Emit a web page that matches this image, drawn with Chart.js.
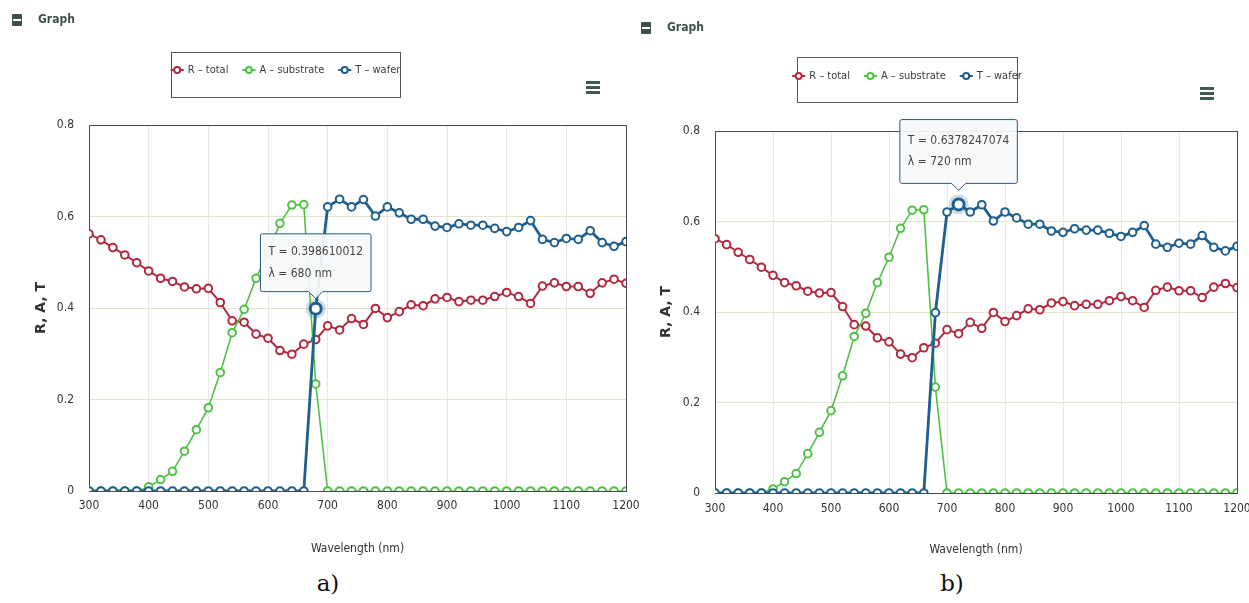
<!DOCTYPE html>
<html><head><meta charset="utf-8">
<script src="https://cdn.jsdelivr.net/npm/chart.js@4.4.1/dist/chart.umd.min.js"></script>
<style>
html,body{margin:0;padding:0;background:#fff;width:1249px;height:603px;overflow:hidden;position:relative;font-family:'DejaVu Sans Condensed','Liberation Sans Narrow','Liberation Sans',sans-serif}
canvas{position:absolute;top:0}
#ca{left:0}
#cb{left:640px}
.hdr{position:absolute;font-size:12px;font-weight:bold;color:#3d5247;height:14px}
.hdr i{position:absolute;left:0;top:0;width:10px;height:12px;background:#3d5247;border-radius:1px}
.hdr i:after{content:'';position:absolute;left:1px;right:1px;top:5px;height:2px;background:#fff}
.hdr span{position:absolute;left:26px;top:-2px;white-space:nowrap}
.menu{position:absolute;width:14px}
.menu b{display:block;height:3px;background:#3f5a4e;margin-bottom:2px}
.cap{position:absolute;font-family:'DejaVu Serif','Liberation Serif',serif;font-size:23px;color:#111;transform:translate(-50%,-50%)}
</style></head>
<body>
<canvas id="ca" width="640" height="565"></canvas>
<canvas id="cb" width="609" height="565"></canvas>
<div class="hdr" style="left:12px;top:14px"><i></i><span>Graph</span></div>
<div class="hdr" style="left:641px;top:22px"><i></i><span>Graph</span></div>
<div class="menu" style="left:586px;top:81px"><b></b><b></b><b></b></div>
<div class="menu" style="left:1200px;top:87px"><b></b><b></b><b></b></div>
<div class="cap" style="left:328px;top:583px">a)</div>
<div class="cap" style="left:952px;top:583px">b)</div>
<script>
const wavelengths = [300,320,340,360,380,400,420,440,460,480,500,520,540,560,580,600,620,640,660,680,700,720,740,760,780,800,820,840,860,880,900,920,940,960,980,1000,1020,1040,1060,1080,1100,1120,1140,1160,1180,1200];
const rTotal = [0.562,0.549,0.532,0.516,0.499,0.481,0.465,0.458,0.446,0.442,0.443,0.412,0.372,0.369,0.343,0.334,0.307,0.299,0.321,0.331,0.361,0.352,0.377,0.364,0.399,0.379,0.392,0.407,0.405,0.420,0.423,0.414,0.417,0.417,0.425,0.434,0.425,0.410,0.448,0.455,0.447,0.447,0.432,0.455,0.463,0.454];
const aSubstrate = [0,0,0,0,0,0.009,0.025,0.043,0.087,0.134,0.182,0.259,0.346,0.397,0.465,0.521,0.585,0.625,0.626,0.234,0,0,0,0,0,0,0,0,0,0,0,0,0,0,0,0,0,0,0,0,0,0,0,0,0,0];
const tWafer = [0,0,0,0,0,0,0,0,0,0,0,0,0,0,0,0,0,0,0,0.398610012,0.621,0.6378247074,0.621,0.637,0.601,0.621,0.608,0.594,0.594,0.579,0.576,0.584,0.581,0.581,0.574,0.567,0.576,0.591,0.550,0.543,0.552,0.550,0.569,0.543,0.535,0.545];
const seriesNames = ['R \u2013 total','A \u2013 substrate','T \u2013 wafer'];
const seriesColors = ['#b0293f','#4fc246','#1e5f8e'];
const xTickValues = [300,400,500,600,700,800,900,1000,1100,1200];
const yTickValues = [0,0.2,0.4,0.6,0.8];
const highlightA = 680, highlightB = 720;

const FAM = "'DejaVu Sans Condensed','Liberation Sans Narrow','Liberation Sans',Arial,sans-serif";
Chart.defaults.font.family = FAM;

const framePlugin = {
  id:'frame',
  beforeDatasetsDraw(chart){
    const {ctx, chartArea:a} = chart;
    ctx.save();
    chart.getActiveElements().forEach(e=>{
      ctx.beginPath(); ctx.arc(e.element.x, e.element.y, 10, 0, Math.PI*2);
      ctx.fillStyle='rgba(30,95,142,0.22)'; ctx.fill();
    });
    ctx.strokeStyle='#4a4a4a'; ctx.lineWidth=1;
    ctx.strokeRect(Math.round(a.left)+0.5, Math.round(a.top)+0.5, Math.round(a.right-a.left), Math.round(a.bottom-a.top));
    ctx.restore();
  }
};
const legendPlugin = {
  id:'boxLegend',
  afterDraw(chart, args, o){
    const ctx = chart.ctx;
    ctx.save();
    ctx.font = '11px ' + FAM;
    const items = chart.data.datasets.map(d=>({label:d.label,color:d.borderColor,w:ctx.measureText(d.label).width}));
    const sym=13, gs=4, gi=14;
    const content = items.reduce((s,it)=>s+sym+gs+it.w,0) + gi*(items.length-1);
    ctx.strokeStyle='#555'; ctx.lineWidth=1;
    ctx.strokeRect(o.left+0.5, o.top+0.5, o.width, o.height);
    let x = o.left + (o.width-content)/2; const y = o.top + o.itemDy;
    items.forEach(it=>{
      ctx.strokeStyle=it.color; ctx.lineWidth=2;
      ctx.beginPath(); ctx.moveTo(x,y); ctx.lineTo(x+sym,y); ctx.stroke();
      ctx.beginPath(); ctx.arc(x+sym/2,y,3,0,Math.PI*2); ctx.fillStyle='#fff'; ctx.fill(); ctx.stroke();
      x += sym+gs;
      ctx.fillStyle='#3a3a3a'; ctx.textBaseline='middle'; ctx.textAlign='left';
      ctx.fillText(it.label,x,y);
      x += it.w + gi;
    });
    ctx.restore();
  }
};

function ds(i, vals, lw, order){
  return {label:seriesNames[i], data:wavelengths.map((w,k)=>({x:w,y:vals[k]})), borderColor:seriesColors[i], backgroundColor:'#fff',
    borderWidth:lw, pointRadius:3.8, pointBorderWidth:2, pointBackgroundColor:'#fff', pointBorderColor:seriesColors[i],
    pointHoverRadius:5.5, pointHoverBorderWidth:3, pointHoverBackgroundColor:'#fff', pointHoverBorderColor:seriesColors[i],
    tension:0, order:order};
}

function makeChart(id, c){
  const chart = new Chart(document.getElementById(id), {
    type:'line',
    data:{datasets:[ds(0,rTotal,2,3), ds(1,aSubstrate,1.6,2), ds(2,tWafer,2.8,1)]},
    options:{
      responsive:false, animation:false, events:[],
      layout:{padding:{top:c.top,right:c.right,left:0,bottom:0}},
      scales:{
        x:{type:'linear',min:300,max:1200,
          afterFit(s){s.height=c.xh;s.paddingLeft=0;s.paddingRight=0;},
          afterBuildTicks(s){s.ticks=xTickValues.map(v=>({value:v}));},
          ticks:{padding:c.xpad,color:'#333',font:{size:12},callback:v=>String(v),maxRotation:0,autoSkip:false},
          grid:{color:'#e8e8e8',drawTicks:false}, border:{display:false},
          title:{display:true,text:'Wavelength (nm)',color:'#333',font:{size:12},padding:{top:0,bottom:c.xtp}}},
        y:{min:0,max:0.8,
          afterFit(s){s.width=c.yw;s.paddingTop=0;s.paddingBottom=0;},
          afterBuildTicks(s){s.ticks=yTickValues.map(v=>({value:v}));},
          ticks:{padding:c.ypad,color:'#333',font:{size:12}},
          grid:{color:'#e4e4cc',drawTicks:false}, border:{display:false},
          title:{display:true,text:'R, A, T',color:'#333',font:{size:14,weight:'bold',family:"'DejaVu Sans',sans-serif"},padding:{top:c.ytp,bottom:0}}}
      },
      plugins:{
        legend:{display:false},
        tooltip:{enabled:true,displayColors:false,backgroundColor:'rgba(247,249,250,0.93)',borderColor:'#2b5875',borderWidth:1,
          bodyColor:'#444',bodyFont:{size:12},bodySpacing:7,padding:{top:c.tp,bottom:c.tp,left:8,right:8},
          caretSize:7,caretPadding:c.cp,cornerRadius:2,xAlign:'center',yAlign:'bottom',
          callbacks:{title:()=>'',label:(t)=>['T = '+t.raw.y,'\u03bb = '+t.raw.x+' nm']}},
        boxLegend:c.legend
      }
    },
    plugins:[framePlugin, legendPlugin]
  });
  const idx = wavelengths.indexOf(c.hl);
  chart.setActiveElements([{datasetIndex:2,index:idx}]);
  chart.tooltip.setActiveElements([{datasetIndex:2,index:idx}],{x:0,y:0});
  chart.update();
  return chart;
}

makeChart('ca',{top:125,right:14,xh:74,xpad:8,xtp:9,yw:89,ypad:15,ytp:33,hl:highlightA,tp:11,cp:10,
  legend:{left:171,top:52,width:229,height:45,itemDy:18}});
makeChart('cb',{top:131,right:12,xh:72,xpad:9,xtp:8,yw:75,ypad:15,ytp:18,hl:highlightB,tp:14,cp:14,
  legend:{left:157,top:57,width:220,height:45,itemDy:19}});
</script>
</body></html>
